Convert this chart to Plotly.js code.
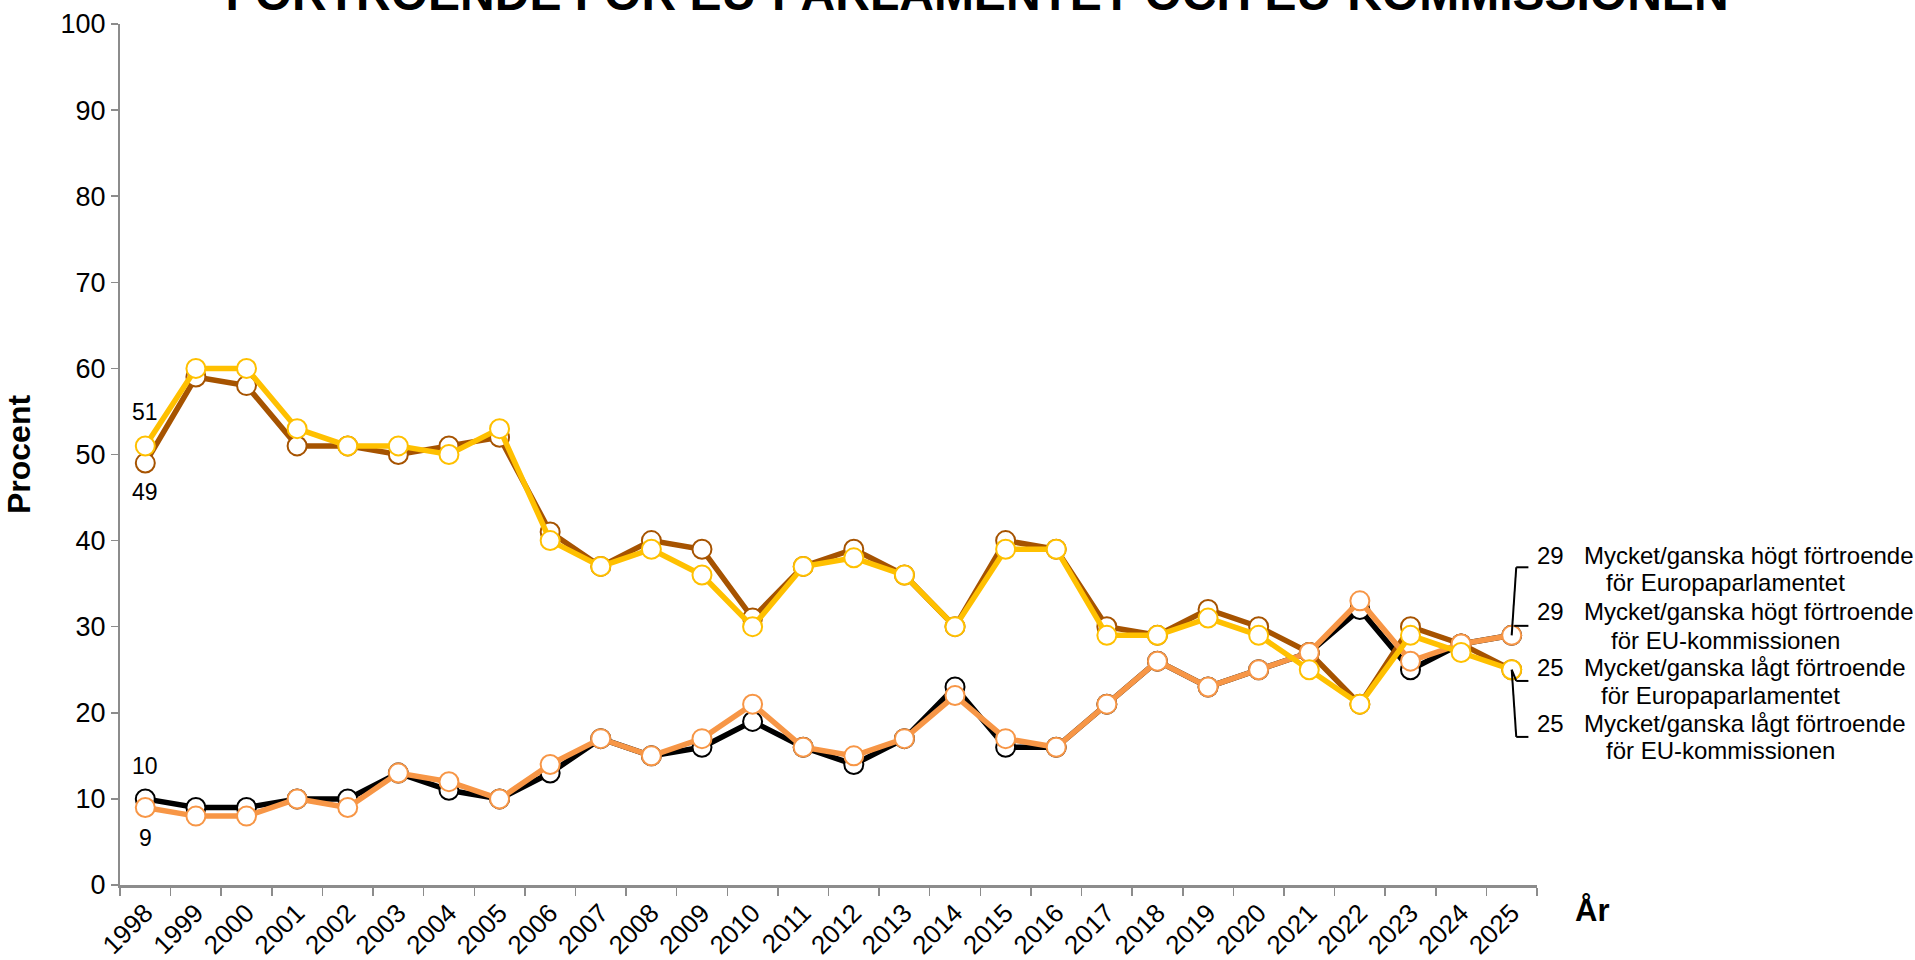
<!DOCTYPE html>
<html>
<head>
<meta charset="utf-8">
<script src="https://cdn.plot.ly/plotly-3.0.1.min.js"></script>
<style>html,body{margin:0;padding:0;background:#fff;}#chart{width:1915px;height:960px;}</style>
</head>
<body>
<div id="chart"></div>
<script>
// ---- Data ----
const years = ["1998","1999","2000","2001","2002","2003","2004","2005","2006","2007","2008","2009","2010","2011","2012","2013","2014","2015","2016","2017","2018","2019","2020","2021","2022","2023","2024","2025"];
const hogtEP  = [10, 9, 9,10,10,13,11,10,13,17,15,16,19,16,14,17,23,16,16,21,26,23,25,27,32,25,28,29];
const hogtKom = [ 9, 8, 8,10, 9,13,12,10,14,17,15,17,21,16,15,17,22,17,16,21,26,23,25,27,33,26,28,29];
const lagtEP  = [49,59,58,51,51,50,51,52,41,37,40,39,31,37,39,36,30,40,39,30,29,32,30,27,21,30,28,25];
const lagtKom = [51,60,60,53,51,51,50,53,40,37,39,36,30,37,38,36,30,39,39,29,29,31,29,25,21,29,27,25];
const seriesNames = [
  "Mycket/ganska högt förtroende för Europaparlamentet",
  "Mycket/ganska högt förtroende för EU-kommissionen",
  "Mycket/ganska lågt förtroende för Europaparlamentet",
  "Mycket/ganska lågt förtroende för EU-kommissionen"
];
const titleText = "FÖRTROENDE FÖR EU-PARLAMENTET OCH EU-KOMMISSIONEN";

// ---- Styling ----
const FONT = "Liberation Sans, Arial, Helvetica, sans-serif";
const cBlack = "#000000", cOrange = "#F79646", cBrown = "#A65300", cYellow = "#FFC000";
const W = 1915, H = 960;
const L = 120, R = 1537, T = 24, B = 885;
const px2x = p => (p - L) / (R - L);
const px2y = p => (B - p) / (B - T);

function tr(y, color, name) {
  return {
    x: years, y: y, name: name, type: "scatter", mode: "lines+markers",
    line: {color: color, width: 5.5},
    marker: {symbol: "circle", size: 19, color: "#ffffff", line: {color: color, width: 2}},
    cliponaxis: false, hoverinfo: "x+y+name"
  };
}
const data = [
  tr(hogtEP, cBlack, seriesNames[0]),
  tr(lagtEP, cBrown, seriesNames[2]),
  tr(hogtKom, cOrange, seriesNames[1]),
  tr(lagtKom, cYellow, seriesNames[3])
];

const last = years.length - 1;
const hiEnd = hogtKom[last], loEnd = lagtKom[last];
const ann = [];
const f24 = {family: FONT, size: 24, color: "#000"};
const f22 = {family: FONT, size: 23, color: "#000"};
// first-year value labels (x given as category index)
ann.push({x: 0, y: lagtKom[0], xref: "x", yref: "y", text: String(lagtKom[0]), showarrow: false, yshift: 34, font: f22});
ann.push({x: 0, y: lagtEP[0], xref: "x", yref: "y", text: String(lagtEP[0]), showarrow: false, yshift: -29, font: f22});
ann.push({x: 0, y: hogtEP[0], xref: "x", yref: "y", text: String(hogtEP[0]), showarrow: false, yshift: 33, font: f22});
ann.push({x: 0, y: hogtKom[0], xref: "x", yref: "y", text: String(hogtKom[0]), showarrow: false, yshift: -30, font: f22});

// end-of-line labels
const endVals = [hogtEP[last], hogtKom[last], lagtEP[last], lagtKom[last]];
const line1 = ["Mycket/ganska högt förtroende","Mycket/ganska högt förtroende","Mycket/ganska lågt förtroende","Mycket/ganska lågt förtroende"];
const line2 = ["för Europaparlamentet","för EU-kommissionen","för Europaparlamentet","för EU-kommissionen"];
const l1y = [555, 611, 667, 723], l2y = [582, 640, 695, 750];
const l2cx = [1725, 1725, 1720, 1720];
for (let i = 0; i < 4; i++) {
  ann.push({xref: "paper", yref: "paper", x: px2x(1535), y: px2y(l1y[i]), xanchor: "left", yanchor: "middle", text: String(endVals[i]), showarrow: false, font: f24});
  ann.push({xref: "paper", yref: "paper", x: px2x(1582), y: px2y(l1y[i]), xanchor: "left", yanchor: "middle", text: line1[i], showarrow: false, font: f24});
  ann.push({xref: "paper", yref: "paper", x: px2x(l2cx[i]), y: px2y(l2y[i]), xanchor: "center", yanchor: "middle", text: line2[i], showarrow: false, font: f24});
}
// x-axis title
ann.push({xref: "paper", yref: "paper", x: px2x(1592), y: px2y(910), xanchor: "center", yanchor: "middle", text: "<b>År</b>", showarrow: false, font: {family: FONT, size: 31, color: "#000"}});

// leader lines
const lx0 = last, lx1 = last + 0.09, lx2 = last + 0.33;
const ln = {color: "#000", width: 2};
const shapes = [
  {type: "line", xref: "x", yref: "y", x0: lx0, y0: hiEnd, x1: lx1, y1: hiEnd + 7.9, line: ln, layer: "above"},
  {type: "line", xref: "x", yref: "y", x0: lx1, y0: hiEnd + 7.9, x1: lx2, y1: hiEnd + 7.9, line: ln, layer: "above"},
  {type: "line", xref: "x", yref: "y", x0: last + 0.05, y0: hiEnd + 1.1, x1: lx2, y1: hiEnd + 1.1, line: ln, layer: "above"},
  {type: "line", xref: "x", yref: "y", x0: lx0, y0: loEnd, x1: lx1, y1: loEnd - 1.3, line: ln, layer: "above"},
  {type: "line", xref: "x", yref: "y", x0: lx1, y0: loEnd - 1.3, x1: lx2, y1: loEnd - 1.3, line: ln, layer: "above"},
  {type: "line", xref: "x", yref: "y", x0: lx0, y0: loEnd, x1: lx1, y1: loEnd - 7.8, line: ln, layer: "above"},
  {type: "line", xref: "x", yref: "y", x0: lx1, y0: loEnd - 7.8, x1: lx2, y1: loEnd - 7.8, line: ln, layer: "above"}
];

const layout = {
  width: W, height: H,
  margin: {l: L, r: W - R, t: T, b: H - B, pad: 0},
  paper_bgcolor: "#fff", plot_bgcolor: "#fff",
  showlegend: false,
  font: {family: FONT, size: 26, color: "#000"},
  title: {
    text: "<b>" + titleText + "</b>",
    font: {family: FONT, size: 48, color: "#000"},
    xref: "container", yref: "container",
    x: 977 / W, xanchor: "center",
    y: 1 - 10 / H, yanchor: "bottom"
  },
  xaxis: {
    type: "category", range: [-0.5, years.length - 0.5],
    tickson: "boundaries", ticks: "outside", ticklen: 8, tickwidth: 1.5, tickcolor: "#8c8c8c",
    showline: true, linecolor: "#8c8c8c", linewidth: 2.5,
    showgrid: false, zeroline: false,
    tickangle: -45, tickfont: {family: FONT, size: 26, color: "#000"},
    fixedrange: true
  },
  yaxis: {
    range: [0, 100], dtick: 10, tick0: 0,
    ticks: "outside", ticklen: 7, tickwidth: 1.5, tickcolor: "#8c8c8c",
    showline: true, linecolor: "#8c8c8c", linewidth: 2,
    showgrid: false, zeroline: false,
    tickfont: {family: FONT, size: 27, color: "#000"},
    title: {text: "<b>Procent</b>", font: {family: FONT, size: 32, color: "#000"}, standoff: 20},
    fixedrange: true
  },
  annotations: ann,
  shapes: shapes
};

Plotly.newPlot("chart", data, layout, {displayModeBar: false, staticPlot: true});
</script>
</body>
</html>
